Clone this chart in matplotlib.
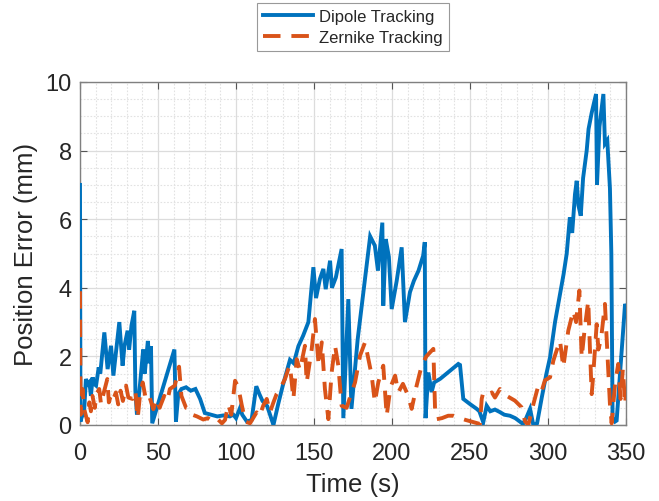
import matplotlib
matplotlib.use("Agg")
import matplotlib.pyplot as plt
from matplotlib.ticker import MultipleLocator

# ---- data ----
dipole_t = [
    0, 0.3, 1.2, 2.5, 3.8, 5, 6, 7, 8.1, 9,
    10.3, 12, 13, 15.6, 17.7, 19.9, 21.4, 23, 25.2, 27.3,
    28.5, 30.5, 31.5, 33, 34.8, 35.5, 36.5, 38.5, 40.5, 41.5,
    43.5, 44.5, 45.5, 46.3, 60.5, 61.5, 63, 65, 68, 71,
    74, 77, 80, 84, 88, 92, 96, 98.3, 100, 102.6,
    104, 107, 110, 113, 115, 117, 120, 124, 127, 130,
    134.6, 137, 140, 143, 146.4, 149.6, 151.3, 153.8, 156, 157.5,
    160.3, 161.5, 164, 167.7, 168.8, 172, 174, 178, 182, 186,
    189, 191, 193.8, 194.4, 196, 198, 199.8, 203, 206.2, 208.3,
    211.5, 214, 217, 220, 221, 221.5, 223.3, 225.4, 227, 231,
    235, 239, 242.5, 243.6, 245.7, 250, 254.3, 256, 258.5, 260.7,
    263, 266, 269, 272, 275.6, 279, 284, 286, 288.5, 290.6,
    293, 296, 299, 301.3, 304.5, 307.7, 310, 312, 314, 315.5,
    317.3, 318.4, 319.5, 321, 322.5, 324.8, 326, 328, 330.8, 331.4,
    333, 335.5, 336.5, 338, 339.7, 340.6, 341.4, 343, 344, 347.2,
    349.4, 350,
]
dipole_err = [
    7.0, 0.1, 0.25, 0.3, 1.34, 1.2, 1.25, 0.85, 1.39, 1.2,
    1.15, 1.68, 1.5, 2.7, 1.63, 2.31, 1.44, 2.1, 3.0, 1.73,
    2.3, 2.75, 2.2, 2.9, 3.33, 1.0, 0.3, 1.2, 2.2, 1.5,
    2.45, 1.8, 2.3, 0.05, 2.2, 0.1, 0.9, 1.05, 1.1, 1.0,
    1.05, 0.76, 0.35, 0.3, 0.25, 0.28, 0.25, 0.3, 0.2, 0.5,
    0.3, 0.1, 0.15, 1.13, 0.9, 0.7, 0.55, 0.0, 0.6, 1.15,
    1.9, 1.8, 2.3, 2.6, 3.0, 4.6, 3.7, 4.26, 4.55, 3.96,
    4.79, 4.0, 4.3, 5.13, 0.2, 3.67, 0.47, 2.5, 4.0, 5.5,
    5.23, 4.5, 5.9, 3.48, 5.42, 4.9, 3.38, 4.2, 5.18, 3.0,
    3.87, 4.2, 4.5, 4.94, 5.33, 0.2, 1.53, 0.96, 1.24, 1.35,
    1.5, 1.65, 1.78, 1.75, 0.76, 0.61, 0.47, 0.4, 0.08, 0.56,
    0.4, 0.45, 0.38, 0.3, 0.27, 0.2, 0.03, 0.2, 0.47, 0.0,
    0.05, 0.8, 1.5, 1.97, 3.0, 3.82, 4.4, 5.0, 6.05, 5.6,
    6.73, 7.12, 6.4, 6.1, 7.2, 8.0, 8.63, 9.1, 9.65, 7.0,
    8.7, 9.65, 8.2, 8.3, 6.9, 5.0, 0.22, 0.1, 0.13, 2.17,
    3.53, 3.45,
]

zernike_t = [
    0, 0.4, 1.6, 2.7, 4.9, 6, 7, 8, 9.5, 10.5,
    12.3, 13.5, 15, 17.5, 18.5, 20, 21.4, 23, 24.5, 26,
    27.5, 29.5, 31, 33.7, 35.5, 37, 38.5, 40.2, 42, 44,
    47, 49, 51, 54, 56, 57.6, 60.8, 63.5, 65, 68,
    70.5, 72, 75, 79, 82, 85, 88, 91, 93, 95,
    97, 99.4, 101.5, 103.6, 106, 109, 111, 113.2, 115, 117.5,
    119.7, 121.8, 124, 126, 128.2, 130.3, 131.4, 133.5, 134.6, 136.8,
    138.9, 141, 144.2, 145.3, 148.5, 150.6, 153, 155, 157, 159.2,
    161.3, 163.5, 165.6, 167.7, 170.9, 173, 176.3, 179.5, 182.7, 184.5,
    187, 189, 191.2, 194.4, 196.6, 199, 202, 204, 207, 210.4,
    212.6, 215.8, 219, 222, 226.5, 227.6, 228.7, 232, 236, 239.3,
    243.6, 247, 251, 256.4, 257.5, 258.5, 261.5, 264, 266, 269.2,
    273.5, 278.8, 283, 285.3, 287.4, 290, 293.8, 296, 298, 301.3,
    303.4, 305, 307.7, 309.8, 313, 316.2, 318, 320.1, 321.6, 323.5,
    325.8, 326.9, 328, 328.9, 331.2, 332.3, 334, 336.5, 338.7, 339.7,
    340.8, 343, 345, 346.5, 348, 349.4, 350,
]
zernike_err = [
    3.9, 0.3, 1.05, 0.46, 0.08, 0.66, 0.4, 0.85, 0.5, 0.9,
    1.05, 0.6, 0.9, 1.34, 0.66, 0.9, 0.76, 0.95, 0.6, 1.0,
    0.7, 1.15, 0.8, 0.76, 1.0, 0.2, 0.9, 1.24, 0.8, 0.9,
    0.46, 0.76, 0.5, 0.85, 0.7, 1.05, 1.15, 1.7, 0.85, 0.5,
    0.47, 0.3, 0.25, 0.16, 0.2, 0.1, 0.18, 0.05, 0.15, 0.6,
    0.3, 1.29, 1.1, 0.6, 0.1, 0.05, 0.2, 0.37, 0.25, 0.57,
    0.76, 0.37, 0.66, 0.9, 1.05, 1.24, 1.34, 1.63, 1.73, 0.76,
    1.92, 1.6, 2.31, 1.24, 2.2, 3.09, 1.73, 2.41, 1.05, 0.17,
    1.53, 2.31, 1.73, 0.56, 0.5, 0.8, 1.24, 2.02, 2.41, 2.0,
    1.44, 0.66, 1.24, 1.73, 0.27, 1.1, 1.44, 0.95, 1.2, 0.85,
    0.47, 1.15, 1.73, 2.0, 2.22, 0.47, 0.17, 0.2, 0.27, 0.27,
    0.2, 0.15, 0.1, 0.03, 0.76, 0.95, 0.88, 0.95, 0.8, 1.05,
    0.85, 0.71, 0.52, 0.1, 0.0, 0.5, 1.15, 1.0, 1.3, 1.39,
    1.87, 2.1, 2.46, 1.68, 2.75, 3.33, 3.0, 3.92, 1.97, 2.8,
    3.62, 2.2, 0.9, 1.4, 2.94, 2.2, 2.5, 3.53, 1.49, 0.61,
    0.05, 1.2, 1.78, 0.76, 1.63, 0.61, 1.0,
]

series_labels = ["Dipole Tracking", "Zernike Tracking"]
x_ticks = [0, 50, 100, 150, 200, 250, 300, 350]
y_ticks = [0, 2, 4, 6, 8, 10]

# ---- figure ----
plt.rcParams['font.family'] = ['Liberation Sans', 'DejaVu Sans']
fig = plt.figure(figsize=(6.59, 5.02), dpi=100)
ax = fig.add_axes([80/659, 1-426/502, (626-80)/659, (426-83)/502])

blue = '#0072BD'
orange = '#D95319'
ax.plot(dipole_t, dipole_err, color=blue, lw=2.8, label=series_labels[0],
        solid_joinstyle='miter', zorder=3)
ax.plot(zernike_t, zernike_err, color=orange, lw=2.8, label=series_labels[1],
        linestyle=(0, (4.5, 2.8)), zorder=3)

ax.set_xlim(0, 350)
ax.set_ylim(0, 10)
ax.set_xticks(x_ticks)
ax.set_yticks(y_ticks)
ax.xaxis.set_minor_locator(MultipleLocator(10))
ax.yaxis.set_minor_locator(MultipleLocator(0.5))

ax.grid(True, which='major', color='#dcdcdc', lw=0.9, ls='-', zorder=0)
ax.grid(True, which='minor', color='#e2e2e2', lw=0.8, ls=(0, (1.5, 1.5)), zorder=0)
ax.set_axisbelow(True)

ax.tick_params(which='major', direction='in', length=5, width=0.8, color='#555555',
               top=True, right=True, labelsize=17, labelcolor='#262626')
ax.tick_params(axis='x', which='major', pad=12)
ax.tick_params(axis='y', which='major', pad=6)
ax.tick_params(which='minor', length=0, top=True, right=True)
for s in ax.spines.values():
    s.set_color('#808080')
    s.set_linewidth(1.0)

ax.set_xlabel('Time (s)', fontsize=18.5, color='#262626', labelpad=6)
ax.set_ylabel('Position Error (mm)', fontsize=18.5, color='#262626', labelpad=5)

leg = fig.legend(loc='upper center', bbox_to_anchor=(353/659, 1-4/502),
                 fontsize=12, frameon=True, fancybox=False, handlelength=3.0,
                 handletextpad=0.35, labelspacing=0.35, borderpad=0.35,
                 borderaxespad=0)
leg.get_frame().set_edgecolor('#808080')
leg.get_frame().set_linewidth(0.8)
for t in leg.get_texts():
    t.set_color('#262626')

fig.savefig('out.png', dpi=100)
